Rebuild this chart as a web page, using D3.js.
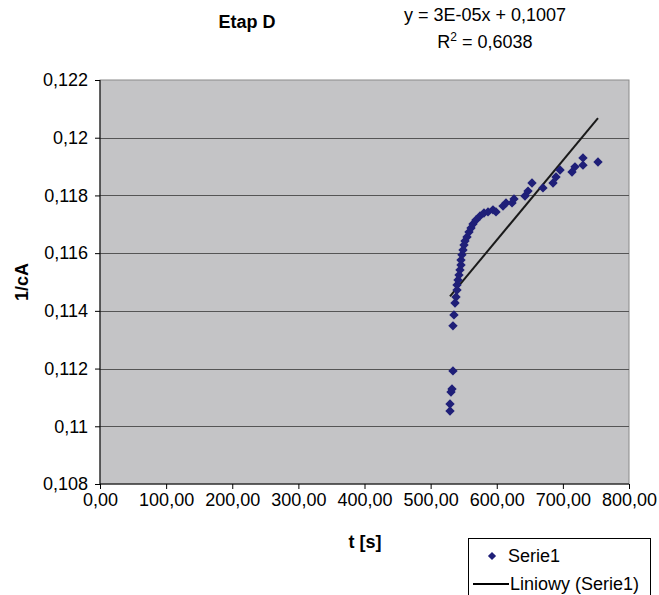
<!DOCTYPE html>
<html>
<head>
<meta charset="utf-8">
<script src="https://cdn.jsdelivr.net/npm/d3@7/dist/d3.min.js"></script>
<style>
  body { margin: 0; background: #fff; }
  svg text { font-family: "Liberation Sans", Arial, sans-serif; fill: #000; }
</style>
</head>
<body>
<svg id="chart" width="659" height="595"></svg>
<script>
// czas [s]
const tValues = [
    529.3, 529.3, 530.8, 532.3, 533.8, 533.8, 535.3, 536.9, 538.4, 539.9,
    539.9, 541.4, 542.9, 544.4, 545.9, 545.9, 547.4, 549.0, 550.5, 552.0,
    555.0, 558.0, 561.1, 564.1, 568.6, 574.7, 580.7, 586.8, 594.3, 598.9,
    609.5, 614.0, 623.1, 626.1, 642.7, 647.3, 653.3, 669.9, 685.1, 689.6,
    695.7, 713.8, 718.3, 730.4, 730.4, 753.1
];
// 1/cA
const invCA = [
    0.11053, 0.11077, 0.11119, 0.11129, 0.11192, 0.11348, 0.11386, 0.11427, 0.11448, 0.11472,
    0.11490, 0.11507, 0.11524, 0.11542, 0.11559, 0.11576, 0.11594, 0.11611, 0.11628, 0.11642,
    0.11656, 0.11673, 0.11687, 0.11701, 0.11715, 0.11729, 0.11739, 0.11743, 0.11750, 0.11743,
    0.11763, 0.11774, 0.11774, 0.11788, 0.11798, 0.11815, 0.11843, 0.11826, 0.11843, 0.11864,
    0.11888, 0.11881, 0.11899, 0.11905, 0.11930, 0.11916
];
const xTicks = [0, 100, 200, 300, 400, 500, 600, 700, 800];
const yTicks = [0.108, 0.11, 0.112, 0.114, 0.116, 0.118, 0.12, 0.122];
const equationText = 'y = 3E-05x + 0,1007';
const r2Text = ' = 0,6038';

const points = tValues.map((t, i) => ({ t: t, v: invCA[i] }));

const svg = d3.select('#chart');
const margin = { left: 100, top: 80 };
const width = 529;
const height = 404;
const fs = '18px';

const x = d3.scaleLinear().domain([0, 800]).range([0, width]);
const y = d3.scaleLinear().domain([0.108, 0.122]).range([height, 0]);

const plot = svg.append('g').attr('transform', `translate(${margin.left},${margin.top})`);

// tlo
plot.append('rect')
    .attr('width', width)
    .attr('height', height)
    .attr('fill', '#c4c4c6')
    .attr('stroke', '#8a8a8a')
    .attr('stroke-width', 1);

// linie siatki
plot.selectAll('line.grid')
    .data(yTicks.slice(1, -1))
    .enter()
    .append('line')
    .classed('grid', true)
    .attr('x1', 0)
    .attr('x2', width)
    .attr('y1', d => Math.round(y(d)) + 0.5)
    .attr('y2', d => Math.round(y(d)) + 0.5)
    .attr('stroke', '#555')
    .attr('stroke-width', 1);

const fmtY = d => String(+d.toFixed(3)).replace('.', ',');
const fmtX = d => d.toFixed(2).replace('.', ',');

const yAxis = plot.append('g')
    .call(d3.axisLeft(y).tickValues(yTicks).tickSize(5).tickPadding(7).tickFormat(fmtY));
const xAxis = plot.append('g')
    .attr('transform', `translate(0,${height})`)
    .call(d3.axisBottom(x).tickValues(xTicks).tickSize(5).tickPadding(4).tickFormat(fmtX));

[yAxis, xAxis].forEach(ax => {
    ax.selectAll('text').style('font-size', fs).attr('fill', '#000');
    ax.selectAll('line, path').attr('stroke', '#000');
});
yAxis.select('.domain').attr('d', `M0,0V${height}`);
xAxis.select('.domain').attr('d', `M0,0H${width}`);

// linia trendu (regresja liniowa)
const meanT = d3.mean(points, d => d.t);
const meanV = d3.mean(points, d => d.v);
const slope = d3.sum(points, d => (d.t - meanT) * (d.v - meanV)) / d3.sum(points, d => (d.t - meanT) ** 2);
const intercept = meanV - slope * meanT;
const tExtent = d3.extent(tValues);

plot.append('line')
    .attr('x1', x(tExtent[0]))
    .attr('y1', y(intercept + slope * tExtent[0]))
    .attr('x2', x(tExtent[1]))
    .attr('y2', y(intercept + slope * tExtent[1]))
    .attr('stroke', '#1a1a1a')
    .attr('stroke-width', 2);

// punkty
const diamond = d3.symbol().type(d3.symbolSquare).size(44);
plot.selectAll('path.point')
    .data(points)
    .enter()
    .append('path')
    .classed('point', true)
    .attr('d', diamond)
    .attr('transform', d => `translate(${x(d.t)},${y(d.v)}) rotate(45)`)
    .attr('fill', '#1f1f78');

// tytul i rownanie
svg.append('text')
    .attr('x', 247).attr('y', 28)
    .attr('text-anchor', 'middle')
    .style('font-size', fs).style('font-weight', 'bold')
    .text('Etap D');

svg.append('text')
    .attr('x', 485).attr('y', 21)
    .attr('text-anchor', 'middle')
    .style('font-size', fs)
    .text(equationText);

const r2 = svg.append('text')
    .attr('x', 485).attr('y', 48)
    .attr('text-anchor', 'middle')
    .style('font-size', fs);
r2.append('tspan').text('R');
r2.append('tspan').attr('dy', -7).style('font-size', '12px').text('2');
r2.append('tspan').attr('dy', 7).text(r2Text);

// opisy osi
svg.append('text')
    .attr('x', 365).attr('y', 548)
    .attr('text-anchor', 'middle')
    .style('font-size', fs).style('font-weight', 'bold')
    .text('t [s]');

svg.append('text')
    .attr('transform', 'translate(28,282) rotate(-90)')
    .attr('text-anchor', 'middle')
    .style('font-size', fs).style('font-weight', 'bold')
    .text('1/cA');

// legenda
const legend = svg.append('g').attr('transform', 'translate(468,538)');
legend.append('rect')
    .attr('x', 0.5).attr('y', 0.5)
    .attr('width', 182).attr('height', 70)
    .attr('fill', '#fff')
    .attr('stroke', '#000');
legend.append('path')
    .attr('d', d3.symbol().type(d3.symbolSquare).size(34))
    .attr('transform', 'translate(24,18) rotate(45)')
    .attr('fill', '#1f1f78');
legend.append('text')
    .attr('x', 40).attr('y', 24)
    .style('font-size', fs)
    .text('Serie1');
legend.append('line')
    .attr('x1', 5).attr('x2', 41)
    .attr('y1', 46).attr('y2', 46)
    .attr('stroke', '#000').attr('stroke-width', 2);
legend.append('text')
    .attr('x', 42).attr('y', 52)
    .style('font-size', fs)
    .text('Liniowy (Serie1)');
</script>
</body>
</html>
